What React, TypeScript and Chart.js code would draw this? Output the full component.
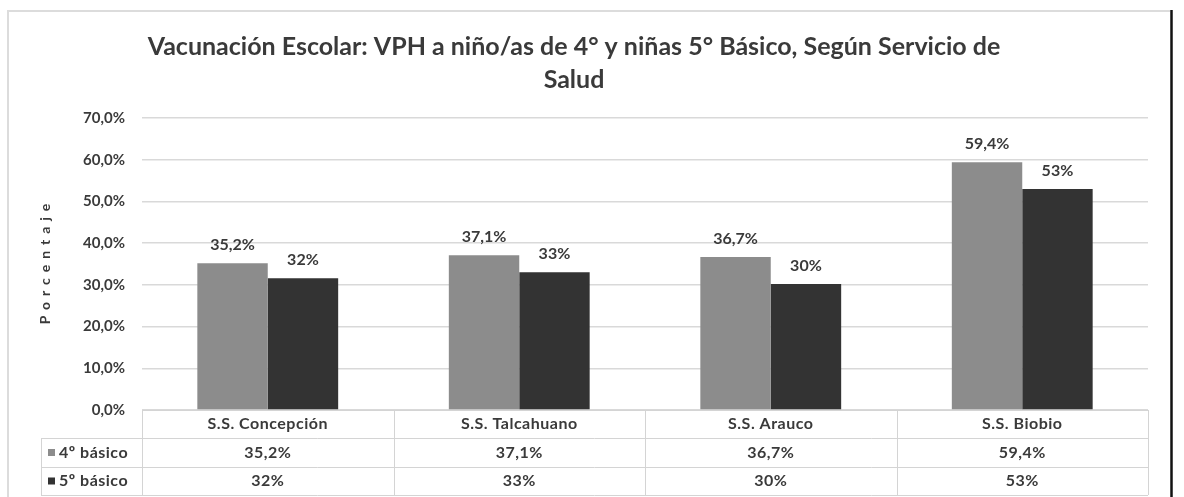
import { useEffect, useRef } from "react";
import { Chart, registerables } from "chart.js";

Chart.register(...registerables);

const titleLines = [
  "Vacunación Escolar: VPH a niño/as de 4° y niñas 5° Básico, Según Servicio de",
  "Salud",
];
const yAxisTitle = "Porcentaje";
const categories = ["S.S. Concepción", "S.S. Talcahuano", "S.S. Arauco", "S.S. Biobio"];
const seriesNames = ["4º básico", "5º básico"];
const values4 = [35.2, 37.1, 36.7, 59.4];
const values5 = [31.6, 33.0, 30.2, 53.0];
const labels4 = ["35,2%", "37,1%", "36,7%", "59,4%"];
const labels5 = ["32%", "33%", "30%", "53%"];
const seriesColors = ["#8c8c8c", "#333333"];

const FONT = "Lato, 'Open Sans', sans-serif";
const TEXT = "#3a3a3a";

const framePlugin = {
  id: "frame",
  beforeDraw(chart: any) {
    const ctx = chart.ctx;
    ctx.save();
    ctx.fillStyle = "#ffffff";
    ctx.fillRect(0, 0, chart.width, chart.height);
    ctx.strokeStyle = "#dcdcdc";
    ctx.lineWidth = 2;
    ctx.beginPath();
    ctx.moveTo(8, chart.height + 2);
    ctx.lineTo(8, 11);
    ctx.lineTo(1170, 11);
    ctx.stroke();
    ctx.strokeStyle = "#111111";
    ctx.lineWidth = 2.5;
    ctx.beginPath();
    ctx.moveTo(1171.5, 10);
    ctx.lineTo(1171.5, chart.height);
    ctx.stroke();
    ctx.restore();
  },
};

const labelsPlugin = {
  id: "barLabels",
  afterDatasetsDraw(chart: any) {
    const ctx = chart.ctx;
    const allLabels = [labels4, labels5];
    ctx.save();
    ctx.font = `bold 16px ${FONT}`;
    ctx.fillStyle = TEXT;
    ctx.textAlign = "center";
    ctx.textBaseline = "bottom";
    chart.data.datasets.forEach((_: any, di: number) => {
      const meta = chart.getDatasetMeta(di);
      meta.data.forEach((bar: any, i: number) => {
        ctx.fillText(allLabels[di][i], bar.x, bar.y - 10);
      });
    });
    ctx.restore();
  },
};

const tablePlugin = {
  id: "dataTable",
  afterDraw(chart: any) {
    const ctx = chart.ctx;
    const area = chart.chartArea;
    const x = chart.scales.x;
    const n = categories.length;
    const w = (area.right - area.left) / n;
    const rows = [area.bottom, area.bottom + 28, area.bottom + 57, area.bottom + 85];
    const labelLeft = 41;
    ctx.save();
    ctx.strokeStyle = "#d4d4d4";
    ctx.lineWidth = 1;
    ctx.beginPath();
    ctx.moveTo(area.left, rows[0] + 0.5);
    ctx.lineTo(area.right, rows[0] + 0.5);
    for (let r = 1; r < rows.length; r++) {
      ctx.moveTo(labelLeft, rows[r] + 0.5);
      ctx.lineTo(area.right, rows[r] + 0.5);
    }
    ctx.moveTo(labelLeft + 0.5, rows[1]);
    ctx.lineTo(labelLeft + 0.5, rows[3]);
    for (let i = 0; i <= n; i++) {
      const px = Math.round(x.getPixelForValue(Math.min(i, n - 1)) + (i === n ? w / 2 : -w / 2)) + 0.5;
      ctx.moveTo(px, rows[0]);
      ctx.lineTo(px, rows[3]);
    }
    ctx.stroke();

    ctx.font = `bold 16px ${FONT}`;
    (ctx as any).letterSpacing = "0.5px";
    ctx.fillStyle = TEXT;
    ctx.textAlign = "center";
    ctx.textBaseline = "middle";
    const rowLabels = [labels4, labels5];
    categories.forEach((c, i) => {
      const cx = x.getPixelForValue(i);
      ctx.fillText(c, cx, (rows[0] + rows[1]) / 2);
      ctx.fillText(rowLabels[0][i], cx, (rows[1] + rows[2]) / 2);
      ctx.fillText(rowLabels[1][i], cx, (rows[2] + rows[3]) / 2);
    });
    ctx.textAlign = "left";
    seriesNames.forEach((s, si) => {
      const cy = (rows[si + 1] + rows[si + 2]) / 2;
      ctx.fillStyle = seriesColors[si];
      ctx.fillRect(48, cy - 3.5, 7, 7);
      ctx.fillStyle = TEXT;
      ctx.fillText(s, 59, cy);
    });

    ctx.translate(45, 264);
    ctx.rotate(-Math.PI / 2);
    ctx.font = `bold 14px ${FONT}`;
    (ctx as any).letterSpacing = "6px";
    ctx.textAlign = "center";
    ctx.fillText(yAxisTitle, 3, 0);
    ctx.restore();
  },
};

export default function App() {
  const ref = useRef<HTMLCanvasElement | null>(null);
  useEffect(() => {
    if (!ref.current) return;
    const chart = new Chart(ref.current, {
      type: "bar",
      data: {
        labels: categories,
        datasets: [
          {
            label: seriesNames[0],
            data: values4,
            backgroundColor: seriesColors[0],
            categoryPercentage: 0.56,
            barPercentage: 1.0,
          },
          {
            label: seriesNames[1],
            data: values5,
            backgroundColor: seriesColors[1],
            categoryPercentage: 0.56,
            barPercentage: 1.0,
          },
        ],
      },
      options: {
        animation: false,
        responsive: true,
        maintainAspectRatio: false,
        layout: { padding: { top: 10, left: 0, right: 36, bottom: 87 } },
        plugins: {
          legend: { display: false },
          tooltip: { enabled: false },
          title: {
            display: true,
            text: titleLines,
            color: TEXT,
            font: { family: FONT, size: 25, weight: "bold", lineHeight: 1.32 },
            padding: { top: 20.5, bottom: 21.5 },
          },
        },
        scales: {
          x: { display: false },
          y: {
            min: 0,
            max: 70,
            afterFit(scale: any) {
              scale.width = 142;
            },
            ticks: {
              stepSize: 10,
              padding: 17,
              color: TEXT,
              font: { family: FONT, size: 15, weight: "bold" },
              callback: (v: any) => Number(v).toFixed(1).replace(".", ",") + "%",
            },
            grid: { color: "#d9d9d9", drawTicks: false, lineWidth: 1.5 },
            border: { display: false },
          },
        },
      },
      plugins: [framePlugin, labelsPlugin, tablePlugin],
    });
    return () => chart.destroy();
  }, []);
  return (
    <div style={{ position: "absolute", left: 0, top: 0, width: 1184, height: 497 }}>
      <canvas ref={ref} />
    </div>
  );
}
